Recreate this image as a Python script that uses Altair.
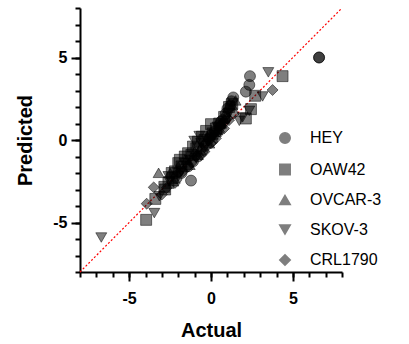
import altair as alt
import pandas as pd

# ---- data ----
hey_x = [6.6, 6.6, 2.38, 2.34, 2.13, 1.36, 1.25, -1.22, 0.9, 0.5, 0.2, -0.3, -0.8, -1.4, 0.7, -0.1, 1.0, -1.8,
         1.2, 0.6, -0.5, -1.1, 0.0, -2.1]
hey_y = [5.0, 5.0, 3.87, 3.34, 2.93, 2.58, 2.35, -2.46, 1.6, 0.9, 0.5, -0.3, -1.0, -1.6, 1.2, 0.1, 1.9, -2.0,
         2.1, 1.1, -0.6, -1.3, 0.3, -2.3]

oaw_x = [4.37, 2.7, 2.44, 2.13, -2.85, -3.4, -3.96, 0.0, -0.3, -0.55, -1.1, -1.6, -2.0, -2.2, -2.35, -1.4, 0.3, 0.8, -0.8, -1.9, 1.1, -2.6,
         -2.4, -1.8, -1.2, -0.9, -0.4, 0.1, 0.5, -2.8, 1.3]
oaw_y = [3.87, 2.68, 1.87, 1.3, -2.84, -3.57, -4.84, 0.96, 0.55, 0.2, -0.4, -1.0, -1.4, -1.9, -2.3, -0.8, 0.7, 1.4, -0.1, -1.2, 2.0, -2.6,
         -2.0, -1.6, -0.9, -0.5, 0.0, 0.4, 1.0, -3.0, 2.2]

ovc_x = [-3.2, 1.12, -0.2, -0.6, 0.4, -1.0, -2.5, 0.9, -1.5, 0.1, -2.0, 0.6, 1.3,
         -2.3, -1.3, -0.8, 0.3, 0.8, 1.5, -0.1]
ovc_y = [-1.99, 2.18, 0.2, -0.4, 0.6, -0.7, -2.0, 1.7, -1.2, 0.3, -1.6, 1.0, 2.1,
         -2.5, -1.5, -0.9, 0.5, 1.3, 2.4, -0.2]

skov_x = [3.5, 3.15, 1.73, -3.46, -6.7, -0.71, -1.02, -3.15, -2.54, 1.93, 2.34, 0.2, -0.4, 0.6, -1.6, 0.9, -2.0, -1.3,
          -1.8, -0.9, -0.2, 0.4, 1.1, -2.6, -0.6]
skov_y = [4.1, 2.64, 1.16, -4.43, -5.91, 0.24, -0.06, -3.41, -2.5, 1.37, 1.77, 0.3, -0.5, 0.6, -1.4, 1.0, -2.2, -1.2,
          -1.9, -1.1, -0.1, 0.8, 1.6, -2.2, -0.2]

crl_x = [3.76, -3.5, -3.93, -2.7, 0.5, 0.1, -0.4, 0.8, -1.2, -1.7, 1.1, -0.9, -2.2, 0.3, 1.4,
         -2.0, -1.4, -0.6, 0.0, 0.6, 1.0, -3.0]
crl_y = [3.03, -2.87, -3.86, -2.9, 0.5, -0.1, -0.7, 0.7, -1.4, -1.9, 1.2, -1.0, -2.6, 0.1, 1.6,
         -2.0, -1.6, -0.9, -0.2, 0.9, 1.3, -3.3]

series_names = ["HEY", "OAW42", "OVCAR-3", "SKOV-3", "CRL1790"]
series_shapes = ["circle", "square", "triangle-up", "triangle-down", "diamond"]

line_x = [-8, 8]
line_y = [-8, 8]

major_ticks = [-5, 0, 5]
minor_ticks = list(range(-8, 9))

rows = []
for name, xs, ys in zip(series_names,
                        [hey_x, oaw_x, ovc_x, skov_x, crl_x],
                        [hey_y, oaw_y, ovc_y, skov_y, crl_y]):
    for a, b in zip(xs, ys):
        rows.append({"Actual": a, "Predicted": b, "Cell": name})
df = pd.DataFrame(rows)
line_df = pd.DataFrame({"Actual": line_x, "Predicted": line_y})

font = "Liberation Sans"

xs = alt.Scale(domain=[-8, 8], nice=False, zero=False)
ys = alt.Scale(domain=[-8, 8], nice=False, zero=False)

x_major = alt.Axis(values=major_ticks, labelExpr="'' + datum.value", tickSize=9,
                   labelPadding=9, titlePadding=14, grid=False, labelOverlap=False,
                   orient="bottom", domain=True)
y_major = alt.Axis(values=major_ticks, labelExpr="'' + datum.value", tickSize=9,
                   labelPadding=4, titlePadding=17, grid=False, labelOverlap=False,
                   orient="left", domain=True)
x_minor = alt.Axis(values=minor_ticks, labels=False, tickSize=5, title=None, grid=False,
                   orient="bottom", domain=False)
y_minor = alt.Axis(values=minor_ticks, labels=False, tickSize=5, title=None, grid=False,
                   orient="left", domain=False)

diag = alt.Chart(line_df).mark_line(color="#ff0000", strokeDash=[2, 2], strokeWidth=1.2).encode(
    x=alt.X("Actual:Q", scale=xs, axis=x_major, title="Actual"),
    y=alt.Y("Predicted:Q", scale=ys, axis=y_major, title="Predicted"),
)

pts = alt.Chart(df).mark_point(
    filled=True, size=120, fill="#000000", stroke="#000000", strokeWidth=1,
    fillOpacity=0.5, strokeOpacity=0.5,
).encode(
    x=alt.X("Actual:Q", scale=xs, axis=x_minor),
    y=alt.Y("Predicted:Q", scale=ys, axis=y_minor),
    shape=alt.Shape("Cell:N", sort=series_names,
                    scale=alt.Scale(domain=series_names, range=series_shapes),
                    legend=alt.Legend(title=None, orient="none", legendX=197, legendY=122,
                                      symbolSize=110, symbolOpacity=0.5,
                                      labelFont=font, labelFontSize=16, labelColor="#000",
                                      labelOpacity=1,
                                      labelOffset=17, rowPadding=13.5, padding=0)),
)

chart = alt.layer(diag, pts).resolve_axis(x="independent", y="independent").properties(
    width=262, height=264,
    autosize=alt.AutoSizeParams(type="none"),
    padding={"left": 80, "top": 8, "right": 67, "bottom": 72},
).configure_view(stroke=None).configure_axis(
    domainColor="#000", domainWidth=2, tickColor="#000", tickWidth=2,
    labelFont=font, labelFontWeight="bold", labelFontSize=16, labelColor="#000",
    titleFont=font, titleFontWeight="bold", titleFontSize=20, titleColor="#000",
)

chart.save("out.html", embed_options={"renderer": "svg", "actions": False})
